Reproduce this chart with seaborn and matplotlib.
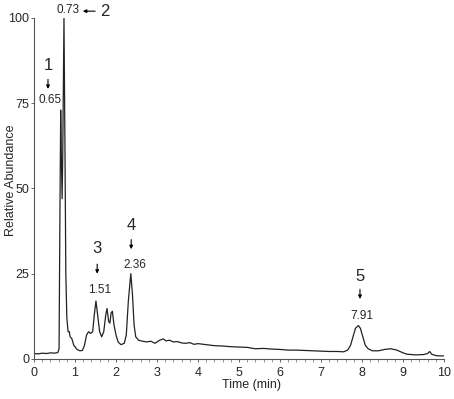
import numpy as np
import pandas as pd
import matplotlib
matplotlib.use('Agg')
import matplotlib.pyplot as plt
import seaborn as sns
from matplotlib.ticker import MultipleLocator

# chromatogram trace
time_min = [0.00, 0.10, 0.20, 0.30, 0.40, 0.50, 0.58, 0.61, 0.63, 0.65, 0.665, 0.685,
            0.70, 0.73, 0.755, 0.775, 0.80, 0.83, 0.86, 0.88, 0.92, 0.97, 1.05, 1.12,
            1.18, 1.23, 1.28, 1.33, 1.38, 1.43, 1.47, 1.51, 1.55, 1.60, 1.65, 1.70,
            1.75, 1.78, 1.82, 1.85, 1.88, 1.91, 1.95, 2.00, 2.05, 2.12, 2.20, 2.25,
            2.30, 2.36, 2.40, 2.44, 2.48, 2.55, 2.65, 2.75, 2.85, 2.95, 3.05, 3.15,
            3.22, 3.30, 3.40, 3.50, 3.60, 3.70, 3.80, 3.90, 4.00, 4.20, 4.40, 4.60,
            4.80, 5.00, 5.20, 5.40, 5.60, 5.80, 6.00, 6.20, 6.40, 6.60, 6.80, 7.00,
            7.20, 7.40, 7.55, 7.65, 7.72, 7.78, 7.84, 7.91, 7.96, 8.02, 8.08, 8.15,
            8.25, 8.40, 8.55, 8.70, 8.85, 9.00, 9.10, 9.30, 9.50, 9.60, 9.65, 9.70,
            9.80, 9.90, 10.00]
abundance = [1.6, 1.5, 1.7, 1.6, 1.8, 1.7, 1.9, 3.0, 40, 73, 60, 47,
             60, 100, 60, 25, 12, 8, 8, 6.5, 6, 4, 2.8, 2.4,
             2.5, 4, 7, 8, 7.5, 8, 13, 17, 13, 8, 6.5, 8,
             13, 14.8, 11, 10.5, 13.5, 14, 10, 7, 5, 4.2, 4.6, 7,
             17, 25, 19, 10, 6.5, 5.5, 5.2, 5.0, 5.2, 4.6, 5.4, 5.9,
             5.3, 5.5, 5.0, 5.1, 4.7, 4.6, 4.8, 4.3, 4.5, 4.2, 3.9, 3.8,
             3.6, 3.5, 3.4, 3.0, 3.1, 2.9, 2.8, 2.6, 2.6, 2.5, 2.4, 2.3,
             2.2, 2.2, 2.1, 2.6, 4, 6.5, 9, 9.8, 9, 6.5, 4, 3.0,
             2.4, 2.4, 2.8, 3.0, 2.6, 1.8, 1.4, 1.2, 1.3, 1.6, 2.2, 1.4,
             1.0, 0.9, 0.9]

# peak labels: number, retention time, and where the text sits
peak_ids = ['1', '3', '4', '5']
peak_rt = ['0.65', '1.51', '2.36', '7.91']
id_x = [0.34, 1.54, 2.37, 7.95]
id_y = [86, 32.3, 39, 24.3]
rt_x = [0.39, 1.61, 2.46, 8.00]
rt_y = [76, 20.2, 27.6, 12.6]
arrow_x = [0.34, 1.54, 2.37, 7.95]
arrow_top = [82, 27.8, 35, 20.4]
arrow_bot = [79.2, 25.0, 32.2, 17.6]

sns.set_style('ticks')
plt.rcParams['font.family'] = ['Liberation Sans', 'DejaVu Sans']

df = pd.DataFrame({'Time': time_min, 'Abundance': abundance})

fig = plt.figure(figsize=(4.54, 3.99), dpi=100)
ax = fig.add_axes([0.075, 0.1003, 0.903, 0.8546])
sns.lineplot(data=df, x='Time', y='Abundance', estimator=None, color='#222222',
             linewidth=0.9, ax=ax)

ax.set_xlim(0, 10)
ax.set_ylim(0, 100)
ax.set_yticks([0, 25, 50, 75, 100])
ax.set_xticks(range(0, 11))
ax.xaxis.set_minor_locator(MultipleLocator(0.2))
ax.tick_params(axis='both', which='major', labelsize=9, length=2.5, width=0.7,
               color='#666666')
ax.tick_params(axis='y', which='major', pad=1)
ax.tick_params(axis='x', which='major', pad=3)
ax.tick_params(axis='x', which='minor', length=2, width=0.6, color='#888888')
ax.set_xlabel('Time (min)', fontsize=9)
ax.set_ylabel('Relative Abundance', fontsize=9)
ax.xaxis.set_label_coords(0.53, -0.06)
ax.yaxis.set_label_coords(-0.042, 0.525)
for s in ['top', 'right']:
    ax.spines[s].set_visible(False)
for s in ['left', 'bottom']:
    ax.spines[s].set_linewidth(0.8)
    ax.spines[s].set_color('#555555')

for i in range(len(peak_ids)):
    ax.text(id_x[i], id_y[i], peak_ids[i], fontsize=12, ha='center', va='center')
    ax.text(rt_x[i], rt_y[i], peak_rt[i], fontsize=8.5, ha='center', va='center')
    ax.annotate('', xy=(arrow_x[i], arrow_bot[i]), xytext=(arrow_x[i], arrow_top[i]),
                arrowprops=dict(arrowstyle='-|>', color='black', lw=0.8,
                                mutation_scale=5, shrinkA=0, shrinkB=0))

# peak 2 sits above the axes, with a left-pointing arrow
ax.text(0.84, 102.3, '0.73', fontsize=8.5, ha='center', va='center', clip_on=False)
ax.annotate('', xy=(1.19, 102.0), xytext=(1.49, 102.0), annotation_clip=False,
            arrowprops=dict(arrowstyle='-|>', color='black', lw=0.8,
                            mutation_scale=5, shrinkA=0, shrinkB=0))
ax.text(1.73, 101.8, '2', fontsize=12, ha='center', va='center', clip_on=False)

fig.savefig('out.png', dpi=100)
